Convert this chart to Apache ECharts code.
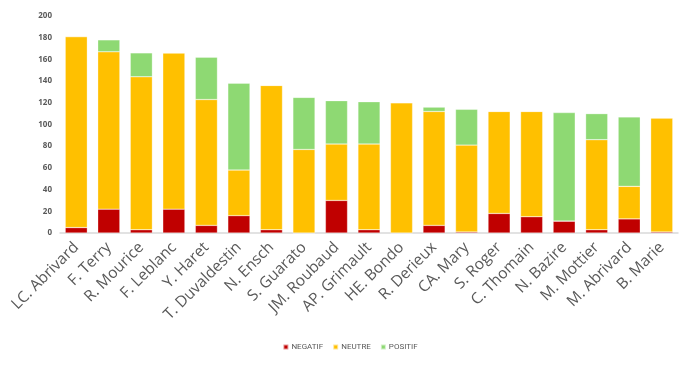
<!DOCTYPE html>
<html><head><meta charset="utf-8">
<script src="https://cdn.jsdelivr.net/npm/echarts@6/dist/echarts.min.js"></script>
<style>html,body{margin:0;padding:0;background:#fff}#c{width:700px;height:365px}</style>
</head><body><div id="c"></div>
<script>
const categories = ["LC. Abrivard","F. Terry","R. Mourice","F. Leblanc","Y. Haret","T. Duvaldestin","N. Ensch","S. Guarato","JM. Roubaud","AP. Grimault","HE. Bondo","R. Derieux","CA. Mary","S. Roger","C. Thomain","N. Bazire","M. Mottier","M. Abrivard","B. Marie"];
const negatif = [5,22,3,22,7,16,3,0,30,3,0,7,1,18,15,11,3,13,1];
const neutre  = [176,145,141,144,116,42,133,77,52,79,120,105,80,94,97,0,83,30,105];
const positif = [0,11,22,0,39,80,0,48,40,39,0,4,33,0,0,100,24,64,0];
const yTicks = [0,20,40,60,80,100,120,140,160,180,200];

const chart = echarts.init(document.getElementById('c'));
const mk = (name, data, color) => ({
  name, type:'bar', stack:'s', data, barCategoryGap:'32%',
  itemStyle:{color, borderColor:'rgba(255,255,255,0.6)', borderWidth:0.5}
});
chart.setOption({
  animation:false,
  grid:{left:60,right:22,top:16,bottom:132},
  legend:{bottom:9,left:'center',itemWidth:5,itemHeight:5,itemGap:9,icon:'rect',
    textStyle:{fontSize:8,color:'#595959',fontFamily:'Roboto',padding:[0,0,0,-2]},
    data:['NEGATIF','NEUTRE','POSITIF']},
  xAxis:{type:'category',data:categories,
    axisLine:{lineStyle:{color:'#d9d9d9',width:1.5}},axisTick:{show:false},
    axisLabel:{rotate:45,fontSize:15.5,color:'#595959',fontFamily:'Open Sans',margin:12,interval:0}},
  yAxis:{type:'value',min:yTicks[0],max:yTicks[yTicks.length-1],interval:20,
    splitLine:{show:false},axisLine:{show:false},axisTick:{show:false},
    axisLabel:{fontSize:8,color:'#595959',fontWeight:'bold',fontFamily:'Open Sans',margin:8}},
  series:[mk('NEGATIF',negatif,'#C00000'),mk('NEUTRE',neutre,'#FFC000'),mk('POSITIF',positif,'#8ED973')]
});
</script></body></html>
